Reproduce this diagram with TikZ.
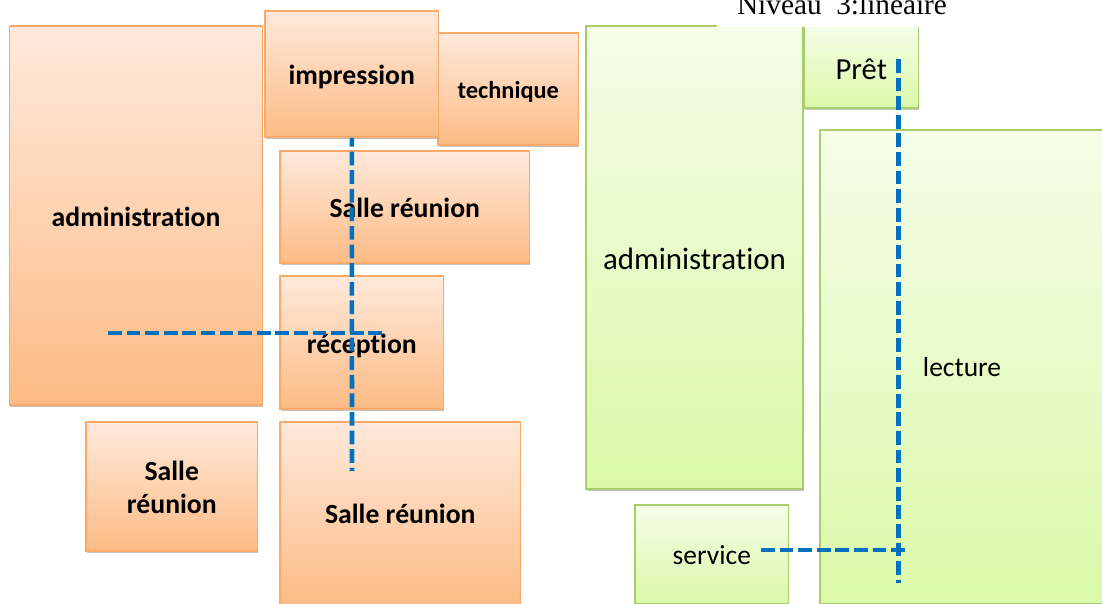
\documentclass[tikz,border=0pt]{standalone}
\usepackage{fontspec}
\setmainfont{Carlito}[Ligatures={NoCommon}]
\newfontfamily\titlefont{Liberation Serif}
\usetikzlibrary{shadows}
\definecolor{orangeedge}{HTML}{F9A968}
\definecolor{orangetop}{HTML}{FFE9DB}
\definecolor{orangebot}{HTML}{FDBB85}
\definecolor{greenedge}{HTML}{A9CC6D}
\definecolor{greentop}{HTML}{F5FDE8}
\definecolor{greenbot}{HTML}{DAF9A8}
\definecolor{pathblue}{HTML}{0070C0}
\newcommand{\lowered}[2]{\raisebox{-#1pt}[\height][\depth]{#2}}
\tikzset{
  x=1pt,y=-1pt,
  room/.style={rectangle,inner sep=0pt,line width=1.5pt,anchor=north west,align=center,
    drop shadow={shadow xshift=0.6pt,shadow yshift=-2pt,fill=black!45,opacity=.5}},
  orangeroom/.style={room,draw=orangeedge,top color=orangetop,bottom color=orangebot,
    font=\fontsize{27.7}{33}\selectfont\bfseries},
  greenroom/.style={room,draw=greenedge,top color=greentop,bottom color=greenbot,
    font=\fontsize{27.5}{33}\selectfont},
  circulation/.style={draw=pathblue,line width=4.6pt,dash pattern=on 13.7pt off 4.9pt},
}
\begin{document}
\begin{tikzpicture}
\useasboundingbox (0,0) rectangle (1102,603);
\clip (0,0) rectangle (1102,603);
% orange plan
\node[orangeroom,minimum width=253pt,minimum height=379pt] (admO) at (8.8,25.3) {\lowered{1}{administration}};
\node[orangeroom,minimum width=140.5pt,minimum height=112pt,font=\fontsize{24.4}{30}\selectfont\bfseries] (tech) at (437.3,32.3) {\lowered{3}{technique}};
\node[orangeroom,minimum width=173.5pt,minimum height=126pt] (impr) at (264.3,10.3) {\lowered{3}{impression}};
\node[orangeroom,minimum width=249.5pt,minimum height=112pt] (sal1) at (279.3,150.3) {\lowered{1}{Salle réunion}};
\node[orangeroom,minimum width=163.5pt,minimum height=133pt] (recep) at (279.3,275.3) {\lowered{3}{réception}};
\node[orangeroom,minimum width=171.5pt,minimum height=129pt] (sal2) at (85.3,421.3) {\lowered{1}{Salle}\\\lowered{1}{réunion}};
\node[orangeroom,minimum width=240.5pt,minimum height=183pt] (sal3) at (279.3,421.3) {Salle réunion};
% green plan
\node[greenroom,minimum width=217pt,minimum height=463pt,font=\fontsize{30.9}{33}\selectfont] (admG) at (585.3,25.3) {\lowered{1}{administration}};
\node[greenroom,minimum width=114.5pt,minimum height=82pt,font=\fontsize{30.6}{33}\selectfont] (pret) at (803.3,25.3) {\lowered{2}{Prêt}};
\node[greenroom,minimum width=284pt,minimum height=474pt] (lect) at (819.3,129.3) {lecture};
\node[greenroom,minimum width=153.5pt,minimum height=99pt] (serv) at (634.3,504.3) {\lowered{1}{service}};
% white mask and title
\fill[white] (717,0) rectangle (919,26.6);
\node[font=\titlefont\fontsize{29.3}{30}\selectfont,anchor=base] (title) at (842,14.5) {Niveau\ \ 3:linéaire};
% circulation
\coordinate (orangeEnd) at (352,471);
\coordinate (orangeLeft) at (108,333);
\coordinate (orangeRight) at (382,333);
\coordinate (greenTop) at (898.5,59);
\coordinate (greenEnd) at (898.5,583);
\coordinate (greenLeft) at (761,550);
\coordinate (greenRight) at (905,550);
\draw[circulation,dash phase=4.8pt] (impr.south) -- (orangeEnd);
\draw[circulation] (orangeLeft) -- (orangeRight);
\draw[circulation] (greenTop) -- (greenEnd);
\draw[circulation] (greenLeft) -- (greenRight);
\end{tikzpicture}
\end{document}
